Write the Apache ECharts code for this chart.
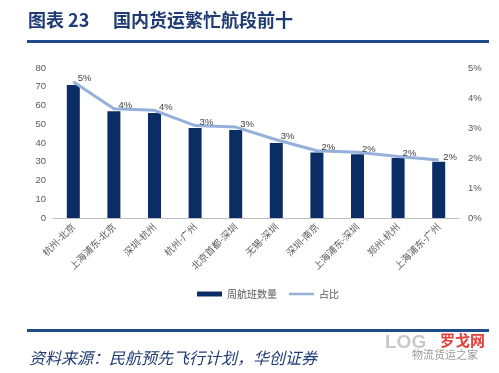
<!DOCTYPE html>
<html>
<head>
<meta charset="utf-8">
<script src="https://cdn.jsdelivr.net/npm/echarts@6/dist/echarts.min.js"></script>
<style>
html,body{margin:0;padding:0;background:#fff;}
#c{width:499px;height:373px;}
</style>
</head>
<body>
<div id="c"></div>
<script>
const categories = ['杭州-北京','上海浦东-北京','深圳-杭州','杭州-广州','北京首都-深圳','无锡-深圳','深圳-南京','上海浦东-深圳','郑州-杭州','上海浦东-广州'];
const weeklyFlights = [71, 57, 56, 48, 47, 40, 35, 34, 32, 30];
const sharePct = [4.54, 3.64, 3.59, 3.08, 3.03, 2.61, 2.24, 2.19, 2.05, 1.93];
const leftTicks = [0, 10, 20, 30, 40, 50, 60, 70, 80];
const rightTicks = ['0%','1%','2%','3%','4%','5%'];

const chart = echarts.init(document.getElementById('c'));
const navy = '#0B2D66';
const lightBlue = '#95B0DB';
const txt = '#595959';
const titleBlue = '#1F3B73';
chart.setOption({
  animation: false,
  backgroundColor: '#fff',
  grid: { left: 53, right: 40, top: 68, bottom: 155 },
  legend: {
    bottom: 69, left: 192,
    itemGap: 12,
    textStyle: { color: txt, fontSize: 10, fontFamily: 'Noto Sans CJK SC' },
    data: [
      { name: '周航班数量', icon: 'rect', itemStyle: { color: navy } },
      { name: '占比', icon: 'path://M0,0 L50,0 L50,5 L0,5 Z', itemStyle: { color: lightBlue } }
    ],
    itemWidth: 25, itemHeight: 5
  },
  xAxis: {
    type: 'category',
    data: categories,
    axisLine: { lineStyle: { color: '#BFBFBF', width: 1 } },
    axisTick: { show: false },
    axisLabel: { rotate: 45, color: txt, fontSize: 9.5, fontFamily: 'Noto Sans CJK SC', margin: 7, interval: 0 }
  },
  yAxis: [
    {
      type: 'value', min: leftTicks[0], max: leftTicks[leftTicks.length-1], interval: 10,
      axisLine: { show: false }, axisTick: { show: false }, splitLine: { show: false },
      axisLabel: { color: txt, fontSize: 9.5, fontFamily: 'Liberation Sans', margin: 7 }
    },
    {
      type: 'value', min: 0, max: 5, interval: 1,
      axisLine: { show: false }, axisTick: { show: false }, splitLine: { show: false },
      axisLabel: { color: txt, fontSize: 9.5, fontFamily: 'Liberation Sans', margin: 9,
        formatter: v => rightTicks[Math.round(v)] }
    }
  ],
  series: [
    {
      name: '周航班数量', type: 'bar', data: weeklyFlights, barWidth: 13,
      itemStyle: { color: navy }
    },
    {
      name: '占比', type: 'line', yAxisIndex: 1, data: sharePct,
      symbol: 'circle', symbolSize: 1, showSymbol: true,
      lineStyle: { color: lightBlue, width: 3 }, itemStyle: { color: lightBlue },
      label: { show: true, position: 'right', distance: 4, offset: [0, -3], color: '#404040', fontSize: 9.5,
        fontFamily: 'Liberation Sans', formatter: p => Math.round(p.value) + '%' }
    }
  ],
  graphic: [
    { type: 'text', left: 28, top: 11, style: { text: '图表 23', font: 'bold 18px "Noto Sans CJK SC"', fill: titleBlue } },
    { type: 'text', left: 113, top: 11, style: { text: '国内货运繁忙航段前十', font: 'bold 18px "Noto Sans CJK SC"', fill: titleBlue } },
    { type: 'rect', shape: { x: 27, y: 40, width: 462, height: 3 }, style: { fill: '#1F4A8C' } },
    { type: 'rect', shape: { x: 27, y: 329, width: 462, height: 3 }, style: { fill: '#1F4A8C' } },
    { type: 'text', left: 29, top: 350, style: { text: '资料来源：民航预先飞行计划，华创证券', font: 'italic 16px "Noto Sans CJK SC"', fill: titleBlue } },
    { type: 'text', left: 385, top: 333, style: { text: 'LOG', font: 'bold 19px "Liberation Sans"', fill: '#C8C8C8' } },
    { type: 'text', left: 440, top: 333, style: { text: '罗戈网', font: 'bold 15px "Noto Sans CJK SC"', fill: '#E0403A' } },
    { type: 'text', left: 412, top: 349, style: { text: '物流货运之家', font: '11px "Noto Sans CJK SC"', fill: '#9A9A9A' } }
  ]
});
</script>
</body>
</html>
